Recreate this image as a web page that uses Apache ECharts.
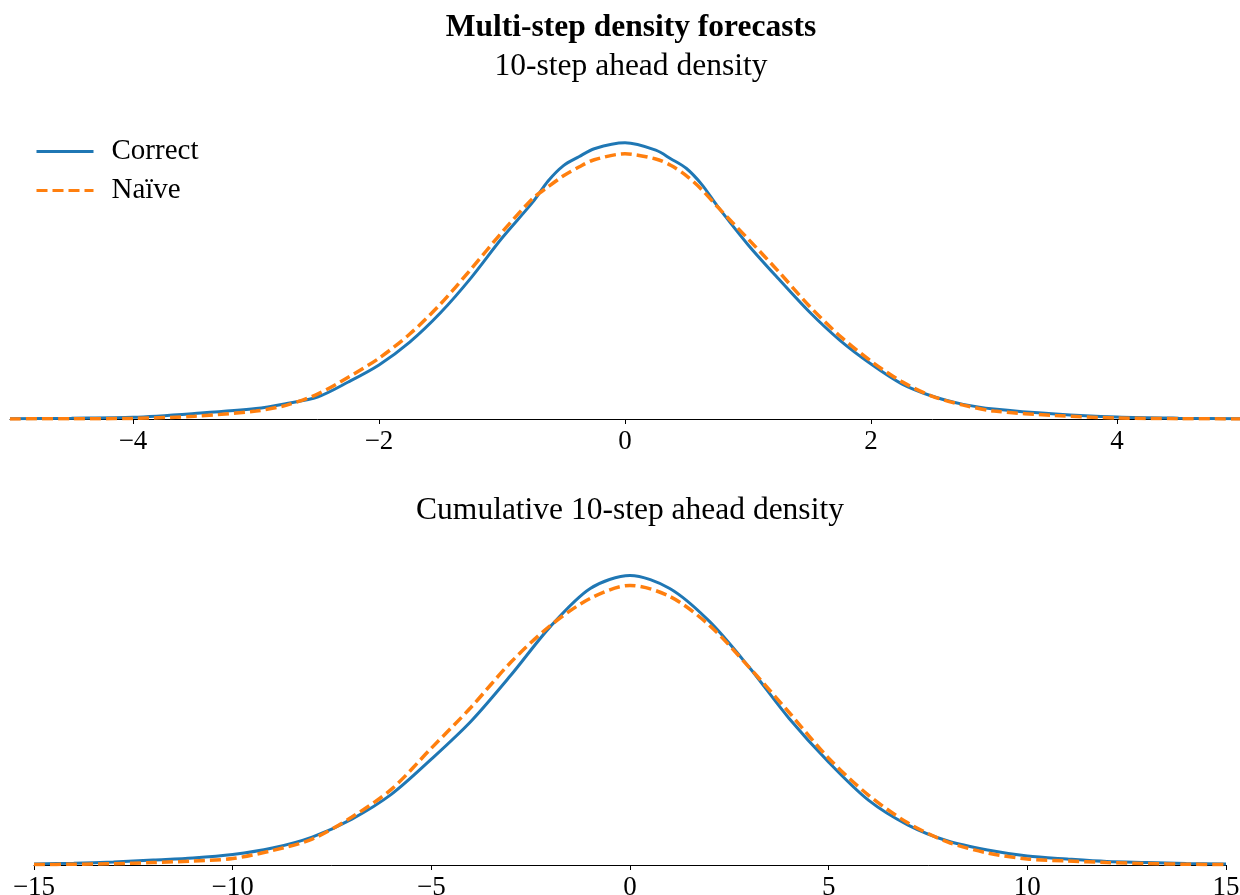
<!DOCTYPE html>
<html>
<head>
<meta charset="utf-8">
<script src="https://cdn.jsdelivr.net/npm/echarts@6/dist/echarts.min.js"></script>
<style>
  html, body { margin: 0; padding: 0; background: #fff; }
  #chart { width: 1240px; height: 895px; }
</style>
</head>
<body>
<div id="chart"></div>
<script>
// 10-step ahead density (top panel)
const stepX = [-5, -4.5, -4, -3.5, -3, -2.75, -2.5, -2.25, -2, -1.75, -1.5, -1.25, -1, -0.75, -0.625, -0.5, -0.375, -0.25,
  0, 0.25, 0.375, 0.5, 0.625, 0.75, 1, 1.25, 1.5, 1.75, 2, 2.25, 2.5, 2.75, 3, 3.5, 4, 4.5, 5]
const stepCorrect = [0.0004, 0.0011, 0.0023, 0.0075, 0.0143, 0.0212, 0.030, 0.0505, 0.0738, 0.105, 0.145, 0.193, 0.247, 0.296, 0.325, 0.346, 0.358, 0.369,
  0.377, 0.367, 0.355, 0.342, 0.320, 0.291, 0.238, 0.191, 0.146, 0.107, 0.075, 0.048, 0.031, 0.020, 0.0137, 0.0068, 0.0027, 0.0011, 0.0004]
const stepNaive = [0.0001, 0.0004, 0.0008, 0.0038, 0.0109, 0.019, 0.034, 0.057, 0.083, 0.116, 0.157, 0.205, 0.255, 0.301, 0.317, 0.332, 0.344, 0.354,
  0.362, 0.355, 0.346, 0.332, 0.313, 0.290, 0.246, 0.201, 0.154, 0.113, 0.079, 0.051, 0.031, 0.019, 0.0109, 0.0048, 0.0014, 0.0004, 0.0001]

// cumulative 10-step ahead density (bottom panel)
const cumX = [-15, -14, -13, -12, -11, -10, -9, -8, -7, -6, -5, -4, -3, -2, -1, 0, 1, 2, 3, 4, 5, 6, 7, 8, 9, 10, 11, 12, 13, 14, 15]
const cumCorrect = [0.0004, 0.0007, 0.0012, 0.002, 0.0028, 0.0042, 0.0068, 0.0112, 0.0184, 0.0284, 0.0424, 0.0576, 0.076, 0.0956, 0.1108, 0.116,
  0.1108, 0.0976, 0.0792, 0.0588, 0.0412, 0.026, 0.016, 0.0096, 0.006, 0.0036, 0.0024, 0.0014, 0.001, 0.0006, 0.0004]
const cumNaive = [0.0002, 0.0003, 0.0005, 0.001, 0.0016, 0.0026, 0.0058, 0.0104, 0.0192, 0.0304, 0.0468, 0.0632, 0.0812, 0.096, 0.1068, 0.112,
  0.1076, 0.096, 0.0792, 0.0612, 0.0428, 0.028, 0.0168, 0.0092, 0.0048, 0.0024, 0.0016, 0.001, 0.0006, 0.0003, 0.0002]

const stepTicks = [-4, -2, 0, 2, 4]

const FONT = 'Liberation Serif'
const pairs = (xs, ys) => xs.map((x, i) => [x, ys[i]])
const fmt = v => (v < 0 ? '\u2212' + Math.abs(v) : String(v))

const axisX = (min, max) => ({
  type: 'value',
  min: min,
  max: max,
  splitLine: { show: false },
  axisLine: { show: true, onZero: false, lineStyle: { color: '#000', width: 1 } },
  axisTick: { show: true, length: 5, lineStyle: { color: '#000' } },
  axisLabel: { color: '#000', fontFamily: FONT, fontSize: 27, margin: 9, formatter: fmt }
})

const axisY = max => ({
  type: 'value',
  min: 0,
  max: max,
  show: false,
  splitLine: { show: false }
})

const blue = '#1f77b4'
const orange = '#ff7f0e'

const line = (name, data, x, color, dashed) => ({
  name: name,
  type: 'line',
  data: data,
  xAxisIndex: x,
  yAxisIndex: x,
  smooth: 0.3,
  showSymbol: false,
  symbol: 'none',
  color: color,
  lineStyle: { color: color, width: dashed ? 3.5 : 3, type: dashed ? [11, 5] : 'solid' }
})

const topX = axisX(-5, 5)
topX.axisTick.customValues = stepTicks
topX.axisLabel.customValues = stepTicks
const botX = axisX(-15, 15)
botX.interval = 5

const option = {
  animation: false,
  title: [
    { text: 'Multi-step density forecasts', left: 626, textAlign: 'center', top: 7,
      textStyle: { fontFamily: FONT, fontSize: 31.5, fontWeight: 'bold', color: '#000' } },
    { text: '10-step ahead density', left: 626, textAlign: 'center', top: 46,
      textStyle: { fontFamily: FONT, fontSize: 31.5, fontWeight: 'normal', color: '#000' } },
    { text: 'Cumulative 10-step ahead density', left: 625, textAlign: 'center', top: 490,
      textStyle: { fontFamily: FONT, fontSize: 31.5, fontWeight: 'normal', color: '#000' } }
  ],
  legend: {
    left: 30,
    top: 132,
    orient: 'vertical',
    itemWidth: 57,
    itemHeight: 14,
    itemGap: 10,
    data: ['Correct', 'Naïve'],
    itemStyle: { opacity: 0 },
    lineStyle: { width: 3 },
    textStyle: { fontFamily: FONT, fontSize: 29, color: '#000', padding: [0, 0, 0, 13] }
  },
  grid: [
    { left: 10, right: 0, top: 126, height: 293, outerBoundsMode: 'none' },
    { left: 34, right: 14, top: 553, height: 312, outerBoundsMode: 'none' }
  ],
  xAxis: [
    Object.assign(topX, { gridIndex: 0 }),
    Object.assign(botX, { gridIndex: 1 })
  ],
  yAxis: [
    Object.assign(axisY(0.4), { gridIndex: 0 }),
    Object.assign(axisY(0.125), { gridIndex: 1 })
  ],
  series: [
    line('Correct', pairs(stepX, stepCorrect), 0, blue, false),
    line('Naïve', pairs(stepX, stepNaive), 0, orange, true),
    line('Correct', pairs(cumX, cumCorrect), 1, blue, false),
    line('Naïve', pairs(cumX, cumNaive), 1, orange, true)
  ]
}

const chart = echarts.init(document.getElementById('chart'))
chart.setOption(option)
window.addEventListener('resize', () => chart.resize())
</script>
</body>
</html>
